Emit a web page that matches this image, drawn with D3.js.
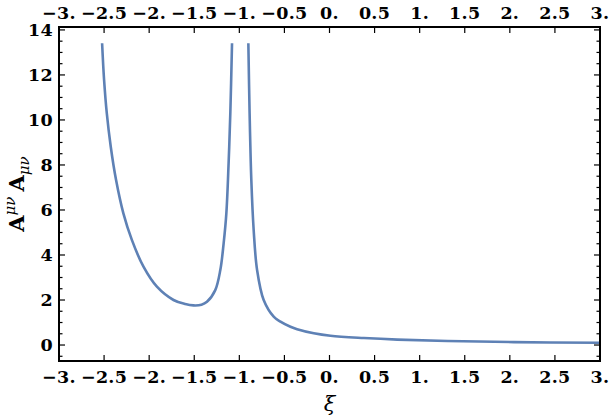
<!DOCTYPE html>
<html lang="en">
<head>
<meta charset="UTF-8">
<title>A^mu nu A_mu nu vs xi</title>
<script src="https://cdn.jsdelivr.net/npm/d3@7"></script>
<style>
  body { margin: 0; background: #fff; }
  .lbl { font-family: "DejaVu Serif", serif; font-size: 17.5px; font-weight: bold; fill: #000; letter-spacing: 0.3px; }
</style>
</head>
<body>
<svg id="chart" width="610" height="419"></svg>
<script>
// values, two branches either side of the pole
var leftXi  = [-2.522, -2.5, -2.47, -2.426, -2.367, -2.286, -2.192, -2.063, -1.914, -1.73, -1.6, -1.508, -1.42, -1.359, -1.267, -1.211, -1.174, -1.144, -1.119, -1.1, -1.081];
var leftVal = [13.41, 11.78, 10.3, 8.81, 7.33, 5.85, 4.67, 3.48, 2.59, 2.0, 1.82, 1.76, 1.79, 1.92, 2.44, 3.33, 4.52, 5.85, 8.08, 10.3, 13.41];
var rightXi  = [-0.9, -0.886, -0.867, -0.841, -0.803, -0.73, -0.619, -0.544, -0.433, -0.359, -0.174, 0.011, 0.381, 0.752, 1.308, 2.048, 3.0];
var rightVal = [13.41, 10.3, 7.33, 5.11, 3.33, 2.0, 1.26, 1.04, 0.81, 0.70, 0.52, 0.41, 0.31, 0.24, 0.18, 0.13, 0.10];

var xTicks = [-3, -2.5, -2, -1.5, -1, -0.5, 0, 0.5, 1, 1.5, 2, 2.5, 3];
var xTickLabels = ["\u22123.", "\u22122.5", "\u22122.", "\u22121.5", "\u22121.", "\u22120.5", "0.", "0.5", "1.", "1.5", "2.", "2.5", "3."];
var yTicks = [0, 2, 4, 6, 8, 10, 12, 14];
var yMinor = d3.range(-0.5, 14.01, 0.5);

var svg = d3.select("#chart");
var m = {left: 59, right: 10, top: 27, bottom: 58};
var W = 610, H = 419;

var x = d3.scaleLinear().domain([-3, 3]).range([m.left, W - m.right]);
var y = d3.scaleLinear().domain([-0.71, 14.13]).range([H - m.bottom, m.top]);

var line = d3.line()
    .x(function(d) { return x(d[0]); })
    .y(function(d) { return y(d[1]); })
    .curve(d3.curveCatmullRom.alpha(0.5));

var branches = [d3.zip(leftXi, leftVal), d3.zip(rightXi, rightVal)];

svg.append("g")
    .selectAll("path")
    .data(branches)
    .enter().append("path")
    .attr("d", line)
    .attr("fill", "none")
    .attr("stroke", "#5e81b5")
    .attr("stroke-width", 2.6)
    .attr("stroke-linejoin", "round");

var x0 = x(-3), x1 = x(3), y0 = y(-0.71), y1 = y(14.13);

// ticks (inward)
var tk = svg.append("g").attr("stroke", "#000").attr("stroke-width", 1.2);
xTicks.forEach(function(t) {
    tk.append("line").attr("x1", x(t)).attr("x2", x(t)).attr("y1", y0).attr("y2", y0 - 6);
    tk.append("line").attr("x1", x(t)).attr("x2", x(t)).attr("y1", y1).attr("y2", y1 + 6);
});
yMinor.forEach(function(t) {
    var major = yTicks.indexOf(t) >= 0;
    var len = major ? 6 : 3.5;
    tk.append("line").attr("x1", x0).attr("x2", x0 + len).attr("y1", y(t)).attr("y2", y(t));
    tk.append("line").attr("x1", x1).attr("x2", x1 - len).attr("y1", y(t)).attr("y2", y(t));
});

// frame
svg.append("rect")
    .attr("x", x0).attr("y", y1)
    .attr("width", x1 - x0).attr("height", y0 - y1)
    .attr("fill", "none").attr("stroke", "#000").attr("stroke-width", 2);

// tick labels
xTicks.forEach(function(t, i) {
    svg.append("text").attr("class", "lbl").attr("x", x(t)).attr("y", y0 + 22)
        .attr("text-anchor", "middle").text(xTickLabels[i]);
    svg.append("text").attr("class", "lbl").attr("x", x(t)).attr("y", y1 - 8)
        .attr("text-anchor", "middle").text(xTickLabels[i]);
});
yTicks.forEach(function(t) {
    svg.append("text").attr("class", "lbl").attr("x", x0 - 6).attr("y", y(t) + 6)
        .attr("text-anchor", "end").text(t);
});

// axis titles
svg.append("text").attr("x", x(0)).attr("y", 411)
    .attr("text-anchor", "middle")
    .style("font-family", "'DejaVu Serif', serif").style("font-style", "italic").style("font-size", "21px")
    .text("\u03be");

var yt = svg.append("text")
    .attr("transform", "translate(24," + ((y0 + y1) / 2) + ") rotate(-90)")
    .attr("text-anchor", "middle")
    .style("font-family", "'DejaVu Serif', serif").style("font-size", "21px").style("font-weight", "bold");
yt.append("tspan").text("A");
yt.append("tspan").attr("dy", -9).style("font-size", "15px").style("font-style", "italic").style("font-weight", "normal").text("\u03bc\u03bd");
yt.append("tspan").attr("dy", 9).attr("dx", 5).text("A");
yt.append("tspan").attr("dy", 5).style("font-size", "15px").style("font-style", "italic").style("font-weight", "normal").text("\u03bc\u03bd");
</script>
</body>
</html>
